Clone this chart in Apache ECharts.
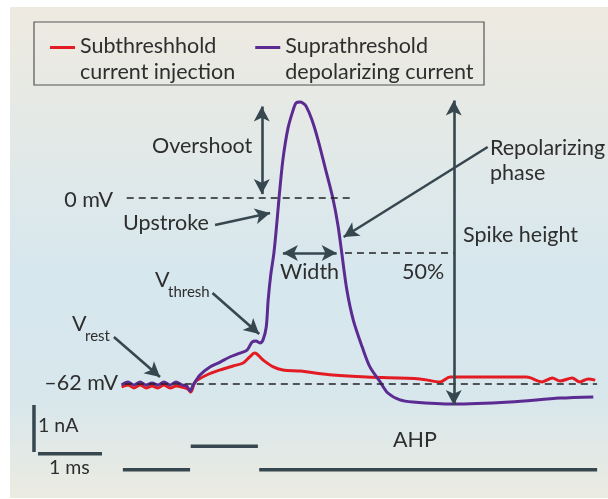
<!DOCTYPE html>
<html>
<head>
<meta charset="utf-8">
<script src="https://cdn.jsdelivr.net/npm/echarts@6/dist/echarts.min.js"></script>
<style>
  html, body { margin: 0; padding: 0; background: #fff; }
  #chart { width: 608px; height: 499px; }
</style>
</head>
<body>
<div id="chart"></div>
<script>
// time in ms, membrane potential in mV, injected current in nA
const subTime = [0, 0.1, 0.19, 0.29, 0.38, 0.475, 0.57, 0.66, 0.76, 0.85, 0.94, 1.04, 1.08, 1.15, 1.33, 1.54, 1.74, 1.9, 2.0, 2.08, 2.21, 2.37, 2.52, 2.79, 3.3, 3.83, 4.66, 4.98, 5.13, 5.8, 6.33, 6.57, 6.73, 6.85, 7.04, 7.16, 7.29, 7.4];
const subMv = [-63, -62.3, -63.3, -62.3, -63.3, -62.7, -63.3, -62.3, -63.3, -62.7, -63, -63.7, -64.7, -61.3, -59, -57.3, -56, -55, -53, -51.7, -54, -56.3, -57.3, -57.7, -59, -59.7, -60.3, -61.3, -59.7, -59.7, -59.7, -61.3, -60, -61, -60, -61.3, -60.3, -60.7];

const supTime = [0, 0.1, 0.19, 0.29, 0.38, 0.475, 0.57, 0.66, 0.76, 0.85, 0.94, 1.02, 1.07, 1.12, 1.225, 1.38, 1.54, 1.69, 1.85, 1.96, 2.04, 2.1, 2.16, 2.21, 2.26, 2.29, 2.33, 2.38, 2.43, 2.46, 2.52, 2.6, 2.68, 2.725, 2.79, 2.83, 2.88, 2.975, 3.07, 3.19, 3.3, 3.38, 3.44, 3.52, 3.62, 3.76, 3.88, 4.04, 4.16, 4.35, 4.55, 5.18, 6.07, 6.85, 7.37];
const supMv = [-62.3, -61.3, -62.3, -61.3, -62.3, -61.7, -62.3, -61.3, -62.3, -61.3, -62.3, -62.7, -64.3, -62.3, -59, -56.3, -54.7, -53, -51.7, -50.7, -48, -47.7, -48.3, -47.3, -43, -34, -25.7, -18.3, -7.3, 0, 12.7, 23.3, 29.3, 31.7, 32, 31.7, 30.7, 26, 19.3, 9.3, 0, -9, -18.3, -30.7, -40.7, -49.7, -56.3, -61.3, -65, -67.3, -68, -68.7, -68, -66.7, -66.3];

// current steps: rest, subthreshold step, rest
const stimTime = [0.02, 1.07, '-', 1.08, 2.13, '-', 2.15, 7.43];
const stimNa = [0, 0, '-', 0.5, 0.5, '-', 0, 0];

// scale bars: 1 nA (vertical), 1 ms (horizontal)
const barTime = [-1.369, -1.369, '-', -1.306, -0.306];
const barNa = [1.38, 0.38, '-', 0.34, 0.34];

const restMv = -62;
const halfMv = -18.3;

const zip = (a, b) => a.map((v, i) => [v, b[i]]);

const chart = echarts.init(document.getElementById('chart'));

const ink = '#37474f';
const txt = '#2e2e2e';
const font = 'Lato, "Open Sans", sans-serif';
const big = 21.5;

const dash = { type: [7, 5], width: 1.5, color: '#222' };
const arrowStyle = { type: 'solid', width: 2.6, color: ink };

function arrow(from, to, both) {
  return [
    { coord: from, symbol: both ? 'arrow' : 'none', symbolSize: [12, 15] },
    { coord: to, symbol: 'arrow', symbolSize: [12, 15], lineStyle: arrowStyle }
  ];
}
function dashed(from, to) {
  return [
    { coord: from, symbol: 'none' },
    { coord: to, symbol: 'none', lineStyle: dash }
  ];
}

function label(text, x, y, size, align) {
  return {
    type: 'text', x: x, y: y, z: 10,
    style: { text: text, fill: txt, font: size + 'px ' + font, textAlign: align || 'left', textVerticalAlign: 'middle' }
  };
}

chart.setOption({
  animation: false,
  backgroundColor: '#fff',
  grid: { left: 0, top: 0, width: 608, height: 498 },
  xAxis: { type: 'value', min: -1.9, max: 7.6, show: false },
  yAxis: [
    { type: 'value', min: -100, max: 66, show: false },
    { type: 'value', min: -0.6, max: 10, show: false }
  ],
  legend: {
    data: ['Subthreshhold', 'Suprathreshold'],
    left: 45,
    top: 28,
    itemWidth: 25,
    itemHeight: 26,
    itemGap: 20,
    // coloured bar sits at the top of the icon box so it lines up with the first text line
    icon: 'path://M0,0h25v3h-25zM0,26h0',
    selectedMode: false,
    formatter: function (name) {
      return name === 'Subthreshhold' ? 'Subthreshhold\ncurrent injection' : 'Suprathreshold\ndepolarizing current';
    },
    textStyle: { color: txt, fontFamily: font, fontSize: big, lineHeight: 26 }
  },
  graphic: [
    {
      type: 'rect', z: -10, silent: true,
      shape: { x: 10, y: 7, width: 598, height: 491 },
      style: {
        fill: new echarts.graphic.LinearGradient(0, 0, 0, 1, [
          { offset: 0, color: '#eeeae0' },
          { offset: 0.3, color: '#e2e9e8' },
          { offset: 0.55, color: '#d6e7ee' },
          { offset: 0.8, color: '#d8e7ec' },
          { offset: 1, color: '#ecebe1' }
        ])
      }
    },
    {
      type: 'rect', z: -5, silent: true,
      shape: { x: 34, y: 22, width: 450, height: 63 },
      style: { fill: 'rgba(0,0,0,0)', stroke: '#555', lineWidth: 1.2 }
    },
    label('Overshoot', 152, 146, big),
    label('0 mV', 113, 200, big, 'right'),
    label('Upstroke', 123, 223, big),
    label('Width', 280, 272, big),
    label('50%', 402, 272, big),
    label('Repolarizing', 490, 148, big),
    label('phase', 490, 173, big),
    label('Spike height', 463, 235, big),
    label('V', 155, 280, big),
    label('thresh', 168, 292, 15),
    label('V', 72, 324, big),
    label('rest', 85, 336, 15),
    label('\u201362 mV', 118, 383, big, 'right'),
    label('AHP', 393, 440, big),
    label('1 nA', 38, 426, 19.5),
    label('1 ms', 49, 468, 19.5)
  ],
  series: [
    {
      name: 'annotations',
      type: 'line',
      data: [],
      z: 1,
      markLine: {
        silent: true,
        label: { show: false },
        animation: false,
        data: [
          dashed([0.08, 0], [3.57, 0]),
          dashed([0.05, restMv], [7.43, restMv]),
          dashed([3.49, halfMv], [5.21, halfMv]),
          arrow([2.19, 1.3], [2.19, 30.5], true),
          arrow([5.19, -69], [5.19, 32.5], true),
          arrow([2.52, halfMv], [3.36, halfMv], true),
          arrow([1.46, -9], [2.32, -5]),
          arrow([5.72, 17], [3.47, -13]),
          arrow([1.42, -31.7], [2.15, -45.3]),
          arrow([-0.12, -46.3], [0.6, -59.7])
        ]
      }
    },
    {
      name: 'stimulus',
      type: 'line',
      yAxisIndex: 1,
      data: zip(stimTime, stimNa),
      symbol: 'none',
      connectNulls: false,
      lineStyle: { color: ink, width: 3.5, cap: 'butt' },
      z: 2
    },
    {
      name: 'scale',
      type: 'line',
      yAxisIndex: 1,
      data: zip(barTime, barNa),
      symbol: 'none',
      connectNulls: false,
      lineStyle: { color: ink, width: 3.5, cap: 'butt' },
      z: 2
    },
    {
      name: 'Subthreshhold',
      type: 'line',
      data: zip(subTime, subMv),
      symbol: 'none',
      smooth: 0.3,
      color: '#e31b23',
      lineStyle: { width: 3 },
      z: 3
    },
    {
      name: 'Suprathreshold',
      type: 'line',
      data: zip(supTime, supMv),
      symbol: 'none',
      smooth: 0.3,
      color: '#5b2b91',
      lineStyle: { width: 3 },
      z: 4
    }
  ]
});
</script>
</body>
</html>
